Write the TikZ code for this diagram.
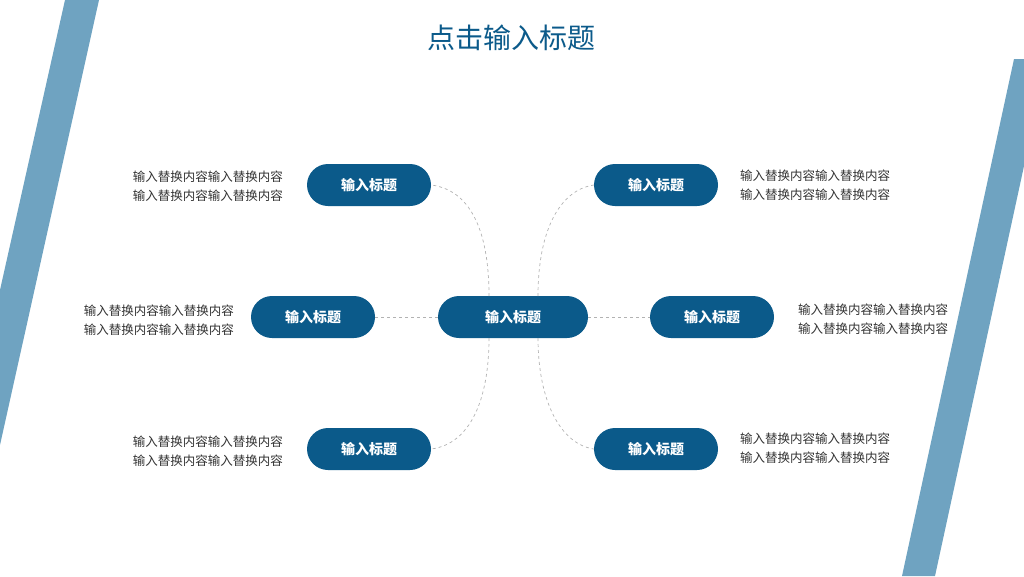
\documentclass[tikz,border=0pt]{standalone}
\usepackage{fontspec}
\newfontfamily\cjk{Noto Sans CJK SC}
\definecolor{band}{HTML}{6FA3C1}
\definecolor{navy}{HTML}{0B5A8A}
\definecolor{txt}{HTML}{333333}
\begin{document}
\begin{tikzpicture}[x=1pt,y=-1pt,
  pill/.style={fill=navy,rounded corners=21pt,minimum width=124pt,minimum height=42pt,text=white,font=\cjk\bfseries\fontsize{14}{16}\selectfont,inner sep=0pt},
  desc/.style={text=txt,font=\cjk\fontsize{12.5}{18.5}\selectfont,inner sep=0pt,align=left},
  link/.style={draw=gray!60,dashed,line width=0.7pt}]
\useasboundingbox (0,0) rectangle (1024,576);
\fill[band] (65,0) -- (99,0) -- (0,445) -- (0,290) -- cycle;
\fill[band] (1014,59) -- (1024,59) -- (1024,166) -- (935,576) -- (902,576) -- cycle;
\node[text=navy,font=\cjk\fontsize{28}{32}\selectfont] (title) at (511,38) {点击输入标题};
\node[pill,minimum width=150pt] (c) at (513,317) {输入标题};
\node[pill] (lt) at (369,185) {输入标题};
\node[pill] (lm) at (313,317) {输入标题};
\node[pill] (lb) at (369,449) {输入标题};
\node[pill] (rt) at (656,185) {输入标题};
\node[pill] (rm) at (712,317) {输入标题};
\node[pill] (rb) at (656,449) {输入标题};
\coordinate (ctl) at (489,296);
\coordinate (ctr) at (538,296);
\coordinate (cbl) at (489,338);
\coordinate (cbr) at (538,338);
\draw[link] (ctl) .. controls (489,230) and (470,190) .. (lt.east);
\draw[link] (ctr) .. controls (538,230) and (560,190) .. (rt.west);
\draw[link] (cbl) .. controls (489,400) and (470,444) .. (lb.east);
\draw[link] (cbr) .. controls (538,400) and (560,444) .. (rb.west);
\draw[link] (c.west) -- (lm.east);
\draw[link] (c.east) -- (rm.west);
\node[desc,anchor=east] (dlt) at (283,186) {输入替换内容输入替换内容\\输入替换内容输入替换内容};
\node[desc,anchor=east] (dlm) at (234,320) {输入替换内容输入替换内容\\输入替换内容输入替换内容};
\node[desc,anchor=east] (dlb) at (283,451) {输入替换内容输入替换内容\\输入替换内容输入替换内容};
\node[desc,anchor=west] (drt) at (740,185) {输入替换内容输入替换内容\\输入替换内容输入替换内容};
\node[desc,anchor=west] (drm) at (798,319) {输入替换内容输入替换内容\\输入替换内容输入替换内容};
\node[desc,anchor=west] (drb) at (740,448) {输入替换内容输入替换内容\\输入替换内容输入替换内容};
\end{tikzpicture}
\end{document}
